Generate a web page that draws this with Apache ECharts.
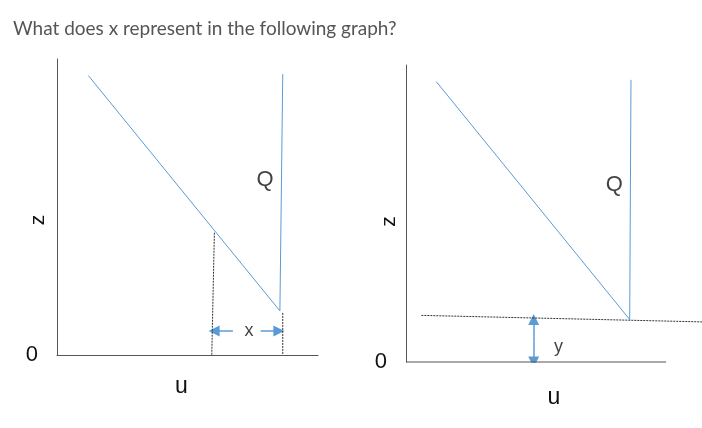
<!DOCTYPE html>
<html>
<head>
<meta charset="utf-8">
<script src="https://cdn.jsdelivr.net/npm/echarts@6/dist/echarts.min.js"></script>
<style>
html,body{margin:0;padding:0;background:#fff;}
#chart{width:702px;height:428px;}
</style>
</head>
<body>
<div id="chart"></div>
<script>
// ---- data (axis units: u and z, origin at 0) ----
const titleText = 'What does x represent in the following graph?';
const axisNames = { x: 'u', y: 'z' };
const originLabel = '0';

// left panel
const leftDemand = [[12.0, 94.4], [85.4, 14.9]];
const leftQ = [[86.5, 94.9], [85.4, 14.9]];
const leftDashA = [[60.3, 41.3], [59.3, 0]];
const leftDashB = [[86.5, 14.2], [86.5, 0]];
const leftArrowLeft = [[67.4, 8.1], [60.2, 8.1]];
const leftArrowRight = [[78.0, 8.1], [85.0, 8.1]];
const leftLabels = [[79.7, 59.0, 'Q'], [73.6, 8.1, 'x']];

// right panel
const rightBase = [[0, 0], [100, 0]];
const rightDemand = [[11.65, 94.4], [86.0, 14.3]];
const rightQ = [[86.5, 95.0], [86.0, 14.3]];
const rightDash = [[5.9, 15.7], [113.8, 13.5]];
const rightArrowUp = [[49.1, 7.0], [49.1, 14.3]];
const rightArrowDown = [[49.1, 7.0], [49.1, 0]];
const rightLabels = [[80.1, 59.6, 'Q'], [58.6, 5.0, 'y']];

const BLUE = '#5b9bd5';
const AXIS = '#555';
const DASH = '#333';
const FONT = 'Liberation Sans';

function solid(data, idx, color) {
  return { type: 'line', xAxisIndex: idx, yAxisIndex: idx, data: data, symbol: 'none', clip: false,
    lineStyle: { color: color || BLUE, width: 1 }, silent: true, animation: false };
}
function dashed(data, idx) {
  return { type: 'line', xAxisIndex: idx, yAxisIndex: idx, data: data, symbol: 'none', clip: false,
    lineStyle: { color: DASH, width: 1, type: [2, 1] }, silent: true, animation: false };
}
function arrows(list, idx) {
  return { type: 'lines', coordinateSystem: 'cartesian2d', xAxisIndex: idx, yAxisIndex: idx,
    data: list.map(c => ({ coords: c })), symbol: ['none', 'triangle'], symbolSize: 11,
    lineStyle: { color: BLUE, width: 1.5, opacity: 1 }, silent: true, animation: false };
}
function labels(data, idx, sizes) {
  return { type: 'scatter', xAxisIndex: idx, yAxisIndex: idx, symbolSize: 0, clip: false, silent: true,
    animation: false,
    data: data.map((d, i) => ({ value: [d[0], d[1]], name: d[2],
      label: { show: true, position: 'inside', formatter: d[2], color: '#111', fontFamily: FONT,
        fontSize: sizes[i] } })) };
}
function xAx(idx, max, showLine, pad, gap) {
  return { type: 'value', gridIndex: idx, min: 0, max: max, name: axisNames.x, nameLocation: 'middle',
    nameGap: gap, nameMoveOverlap: false,
    nameTextStyle: { color: '#111', fontFamily: FONT, fontSize: 23, padding: pad },
    axisLine: { show: showLine, lineStyle: { color: AXIS, width: 1 } }, axisTick: { show: false },
    axisLabel: { show: false }, splitLine: { show: false } };
}
function yAx(idx, pad, gap) {
  return { type: 'value', gridIndex: idx, min: 0, max: 100, interval: 100, name: axisNames.y,
    nameLocation: 'middle', nameGap: gap, nameRotate: 90, nameMoveOverlap: false,
    nameTextStyle: { color: '#111', fontFamily: FONT, fontSize: 21, padding: pad },
    axisLine: { show: true, lineStyle: { color: AXIS, width: 1 } }, axisTick: { show: false },
    axisLabel: { show: true, margin: 19, color: '#111', fontFamily: FONT, fontSize: 22,
      formatter: v => (v === 0 ? originLabel : '') },
    splitLine: { show: false } };
}

const chart = echarts.init(document.getElementById('chart'), null, { renderer: 'canvas' });
chart.setOption({
  backgroundColor: '#fff',
  animation: false,
  title: { text: titleText, left: 8, top: 14,
    textStyle: { fontFamily: 'Lato', fontSize: 19, fontWeight: 'normal', color: '#555' } },
  grid: [
    { left: 57, top: 59, width: 261, height: 296 },
    { left: 406, top: 65, width: 296, height: 297 }
  ],
  xAxis: [xAx(0, 100, true, [0, 12, 0, 0], 20), xAx(1, 113.8, false, [0, 0, 0, 0], 24)],
  yAxis: [yAx(0, [0, 26, 0, 0], 8), yAx(1, [0, 16, 0, 0], 6)],
  series: [
    solid(leftDemand, 0), solid(leftQ, 0), dashed(leftDashA, 0), dashed(leftDashB, 0),
    arrows([leftArrowLeft, leftArrowRight], 0), labels(leftLabels, 0, [22, 18]),
    solid(rightBase, 1, AXIS),
    solid(rightDemand, 1), solid(rightQ, 1), dashed(rightDash, 1),
    arrows([rightArrowUp, rightArrowDown], 1), labels(rightLabels, 1, [22, 18])
  ]
});
</script>
</body>
</html>
